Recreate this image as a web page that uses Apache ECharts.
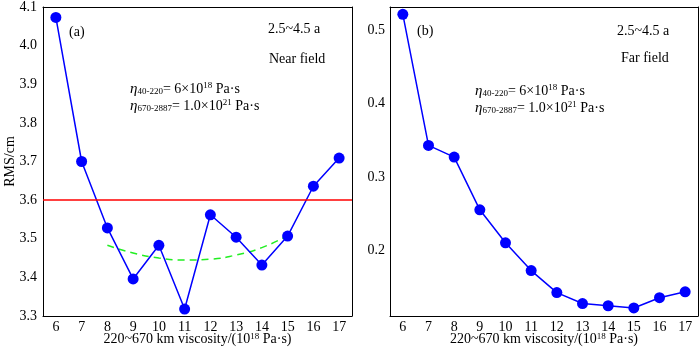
<!DOCTYPE html>
<html>
<head>
<meta charset="utf-8">
<script src="https://cdn.jsdelivr.net/npm/echarts@6/dist/echarts.min.js"></script>
<style>
  html, body { margin: 0; padding: 0; background: #fff; }
  #charts { width: 700px; height: 350px; }
</style>
</head>
<body>
<div id="charts"></div>
<script>
// viscosity of 220~670 km layer, 10^18 Pa·s
let categories = ['6', '7', '8', '9', '10', '11', '12', '13', '14', '15', '16', '17']
let nearRms = [4.073, 3.700, 3.528, 3.396, 3.483, 3.318, 3.562, 3.504, 3.432, 3.507, 3.636, 3.709]
let nearFit = [null, null, 3.483, 3.463, 3.450, 3.445, 3.447, 3.458, 3.477, 3.508, null, null]
let farRms = [0.522, 0.343, 0.327, 0.255, 0.210, 0.172, 0.142, 0.127, 0.124, 0.121, 0.135, 0.143]
let nearThreshold = 3.6
let farTicks = [0.2, 0.3, 0.4, 0.5]

let font = 'Liberation Serif'
let xName = '220~670 km viscosity/(10{sup|18} Pa·s)'

function xAxes(gridIndex) {
  let tick = { inside: true, length: 4, alignWithLabel: true, lineStyle: { color: '#000' } }
  let line = { lineStyle: { color: '#000', width: 1 } }
  return [
    {
      gridIndex: gridIndex,
      type: 'category',
      data: categories,
      position: 'bottom',
      axisLine: line,
      axisTick: tick,
      axisLabel: { color: '#000', fontFamily: font, fontSize: 14, margin: 4 },
      name: xName,
      nameLocation: 'middle',
      nameGap: 16,
      nameMoveOverlap: false,
      nameTextStyle: {
        color: '#000', fontFamily: font, fontSize: 14,
        rich: { sup: { fontFamily: font, fontSize: 9, color: '#000', verticalAlign: 'top' } }
      }
    },
    {
      gridIndex: gridIndex,
      type: 'category',
      data: categories,
      position: 'top',
      axisLine: line,
      axisTick: tick,
      axisLabel: { show: false }
    }
  ]
}

function yAxes(gridIndex, min, max, extra, extraRight) {
  let tick = { inside: true, length: 4, lineStyle: { color: '#000' } }
  let line = { show: true, lineStyle: { color: '#000', width: 1 } }
  return [
    Object.assign({
      gridIndex: gridIndex,
      type: 'value',
      min: min,
      max: max,
      position: 'left',
      axisLine: line,
      axisTick: Object.assign({}, tick, extra.tick || {}),
      splitLine: { show: false },
      axisLabel: Object.assign({ color: '#000', fontFamily: font, fontSize: 14, margin: 6 }, extra.label || {})
    }, extra.axis || {}),
    Object.assign({
      gridIndex: gridIndex,
      type: 'value',
      min: min,
      max: max,
      position: 'right',
      axisLine: line,
      axisTick: Object.assign({}, tick, extra.tick || {}),
      splitLine: { show: false },
      axisLabel: { show: false }
    }, extraRight || {})
  ]
}

let leftY = yAxes(0, 3.3, 4.1, {
  axis: {
    interval: 0.1,
    name: 'RMS/cm',
    nameLocation: 'middle',
    nameGap: 26,
    nameMoveOverlap: false,
    nameRotate: 90,
    nameTextStyle: { color: '#000', fontFamily: font, fontSize: 14 }
  },
  label: { formatter: v => v.toFixed(1) }
}, { interval: 0.1 })

let rightY = yAxes(1, 0.11, 0.532, {
  tick: { customValues: farTicks },
  label: { customValues: farTicks, formatter: v => v.toFixed(1), margin: 5 }
})

let etaRich = {
  i: { fontFamily: font, fontSize: 15, fontStyle: 'italic', color: '#000' },
  sub: { fontFamily: font, fontSize: 9, color: '#000', verticalAlign: 'bottom', padding: [6, 0, 0, 0] },
  sup: { fontFamily: font, fontSize: 9, color: '#000', verticalAlign: 'top', padding: [0, 0, 6, 0] },
  t: { fontFamily: font, fontSize: 14, color: '#000' }
}

function label(x, y, text, size) {
  return {
    type: 'text', x: x, y: y,
    style: { text: text, fontFamily: font, fontSize: size || 14, fill: '#000', verticalAlign: 'middle' }
  }
}
function etaLabel(x, y, text) {
  return {
    type: 'text', x: x, y: y,
    style: { text: text, rich: etaRich, fill: '#000', verticalAlign: 'middle' }
  }
}

let option = {
  animation: false,
  grid: [
    { left: 43, top: 7, width: 309, height: 309, outerBoundsMode: 'none' },
    { left: 390, top: 7, width: 308, height: 309, outerBoundsMode: 'none' }
  ],
  xAxis: xAxes(0).concat(xAxes(1)),
  yAxis: leftY.concat(rightY),
  graphic: [
    label(69, 32, '(a)'),
    label(268, 29, '2.5~4.5 a'),
    label(269, 59, 'Near field'),
    etaLabel(130, 89, '{i|η}{sub|40-220}{t|= 6×10}{sup|18}{t| Pa·s}'),
    etaLabel(130, 106, '{i|η}{sub|670-2887}{t|= 1.0×10}{sup|21}{t| Pa·s}'),
    label(417, 31, '(b)'),
    label(617, 31, '2.5~4.5 a'),
    label(621, 58, 'Far field'),
    etaLabel(475, 91, '{i|η}{sub|40-220}{t|= 6×10}{sup|18}{t| Pa·s}'),
    etaLabel(475, 108, '{i|η}{sub|670-2887}{t|= 1.0×10}{sup|21}{t| Pa·s}')
  ],
  series: [
    {
      type: 'line',
      xAxisIndex: 0,
      yAxisIndex: 0,
      data: nearRms,
      color: '#0000ff',
      symbol: 'circle',
      symbolSize: 11,
      lineStyle: { width: 1.5, color: '#0000ff' },
      markLine: {
        silent: true,
        symbol: 'none',
        label: { show: false },
        lineStyle: { color: '#ff0000', type: 'solid', width: 1.5 },
        data: [{ yAxis: nearThreshold }]
      },
      z: 3
    },
    {
      type: 'line',
      xAxisIndex: 0,
      yAxisIndex: 0,
      data: nearFit,
      smooth: true,
      symbol: 'none',
      lineStyle: { width: 1.5, color: '#22ee22', type: [7, 5] },
      z: 2
    },
    {
      type: 'line',
      xAxisIndex: 2,
      yAxisIndex: 2,
      data: farRms,
      color: '#0000ff',
      symbol: 'circle',
      symbolSize: 11,
      lineStyle: { width: 1.5, color: '#0000ff' }
    }
  ]
}

let chartsInstance = echarts.init(document.getElementById('charts'))
chartsInstance.setOption(option)
</script>
</body>
</html>
